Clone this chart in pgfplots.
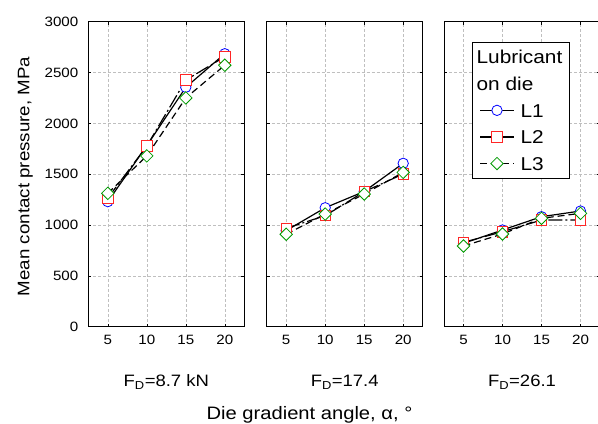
\documentclass[border=0pt]{standalone}
\usepackage{pgfplots}
\usepackage{pgfplotstable}
\pgfplotsset{compat=1.18}
\usepackage{fontspec}
\setmainfont{Liberation Sans}[FakeStretch=1.12]
\newcommand{\fs}[1]{\fontsize{#1bp}{#1bp}\selectfont}

\pgfplotstableread{
x   L1    L2    L3
5   1230  1265  1312
10  1780  1777  1680
15  2355  2426  2250
20  2685  2655  2572
}\panelA
\pgfplotstableread{
x   L1    L2    L3
5   945   968   909
10  1170  1092  1108
15  1330  1328  1305
20  1607  1502  1518
}\panelB
\pgfplotstableread{
x   L1    L2    L3
5   820   830   794
10  951   934   912
15  1082  1049  1066
20  1138  1049  1115
}\panelC

\pgfplotsset{
  panel/.style={
    scale only axis, width=156bp, height=305bp,
    anchor=south west,
    xmin=2.5, xmax=22.5, ymin=0, ymax=3000,
    xtick={5,10,15,20}, ytick={0,500,...,3000},
    grid=major,
    grid style={gray!50, dash pattern=on 3bp off 2bp, line width=0.5bp},
    axis line style={black, line width=0.8bp},
    tick align=inside, major tick length=3bp,
    tick style={black, line width=0.5bp},
    /pgf/number format/assume math mode=true,
    /pgf/number format/set thousands separator={},
    xticklabel style={font=\fs{13.5}, yshift=-5bp},
    yticklabel style={font=\fs{13.5}, xshift=-6.5bp},
    xlabel style={font=\fs{16.5}, at={(axis description cs:0.5,0)}, anchor=base, yshift=-60bp},
  },
  l1/.style={black, line width=1.2bp, mark=*, mark size=5.2bp,
    mark options={solid, draw=blue, fill=white, line width=0.8bp}},
  l2/.style={black, line width=1.2bp, dash pattern=on 14bp off 3bp on 2bp off 3bp,
    mark=square*, mark size=5.2bp,
    mark options={solid, draw=red!85, fill=white, line width=0.8bp}},
  l3/.style={black, line width=1.2bp, dash pattern=on 7bp off 4bp,
    mark=square*, mark size=4.4bp,
    mark options={solid, rotate=45, draw=green!60!black, fill=white, line width=0.8bp}},
}

\begin{document}
\begin{tikzpicture}
\path[use as bounding box] (0,0) rectangle (598bp,424bp);

\begin{axis}[panel, at={(88.3bp,97.3bp)}, xlabel={F\textsubscript{D}=8.7 kN}]
\addplot[l1] table[x=x,y=L1]{\panelA};
\addplot[l2] table[x=x,y=L2]{\panelA};
\addplot[l3] table[x=x,y=L3]{\panelA};
\end{axis}

\begin{axis}[panel, at={(266.7bp,97.3bp)}, yticklabels={}, xlabel={F\textsubscript{D}=17.4}]
\addplot[l1] table[x=x,y=L1]{\panelB};
\addplot[l2] table[x=x,y=L2]{\panelB};
\addplot[l3] table[x=x,y=L3]{\panelB};
\end{axis}

\begin{axis}[panel, at={(444bp,97.3bp)}, yticklabels={}, xlabel={F\textsubscript{D}=26.1},
  legend style={at={(axis description cs:0.1776,0.9344)}, anchor=north west,
    draw=black, line width=0.8bp, fill=white, font=\fs{18.6},
    inner xsep=7.3bp, inner ysep=1.75bp, row sep=0bp, column sep=6bp,
    nodes={inner xsep=0bp, inner ysep=4.55bp, text height=15.5bp, text depth=2bp}},
  legend cell align=left,
  legend image code/.code={\draw[mark repeat=2,mark phase=2,#1] plot coordinates {(0bp,0bp) (17bp,0bp) (34bp,0bp)};}]
\addlegendimage{empty legend}
\addlegendentry{\hspace*{-44bp}Lubricant}
\addlegendimage{empty legend}
\addlegendentry{\hspace*{-44bp}on die}
\addplot[l1] table[x=x,y=L1]{\panelC};
\addlegendentry{L1}
\addplot[l2] table[x=x,y=L2]{\panelC};
\addlegendentry{L2}
\addplot[l3] table[x=x,y=L3]{\panelC};
\addlegendentry{L3}
\end{axis}

\node[rotate=90, anchor=base, font=\fs{16.7}] at (29.3bp,247.5bp) {Mean contact pressure, MPa};
\node[anchor=base, font=\fs{18}] at (309.5bp,4.7bp) {Die gradient angle, α, °};
\end{tikzpicture}
\end{document}
